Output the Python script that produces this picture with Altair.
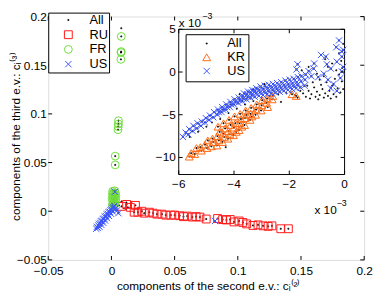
import altair as alt
import pandas as pd

FONT = "Liberation Sans"

# ---------------- main chart data ----------------
ru_pts = [(0.008, 0.005), (0.012, 0.007), (0.015, 0.004), (0.019, 0.006), (0.018, -0.001),
          (0.021, -0.001), (0.024, 0.000), (0.026, -0.002), (0.030, -0.001), (0.033, -0.002),
          (0.036, -0.003), (0.040, -0.003), (0.043, -0.004), (0.047, -0.004), (0.050, -0.004),
          (0.054, -0.0046), (0.057, -0.0056), (0.060, -0.005), (0.064, -0.006), (0.067, -0.0055),
          (0.070, -0.006), (0.075, -0.008), (0.084, -0.0075), (0.088, -0.0086), (0.091, -0.009),
          (0.094, -0.0085), (0.097, -0.011), (0.101, -0.010), (0.104, -0.0115), (0.107, -0.013),
          (0.112, -0.0146), (0.116, -0.014), (0.120, -0.015), (0.124, -0.0155), (0.127, -0.015),
          (0.134, -0.018), (0.140, -0.018)]

fr_pts = [(0.0010, 0.0205), (0.0025, 0.0210), (0.0018, 0.0190), (0.0032, 0.0185), (0.0008, 0.0175),
          (0.0022, 0.0165), (0.0035, 0.0160), (0.0012, 0.0150), (0.0027, 0.0140), (0.0006, 0.0130),
          (0.0020, 0.0120), (0.0034, 0.0115), (0.0010, 0.0105), (0.0025, 0.0095), (0.0015, 0.0080),
          (0.0030, 0.0075), (0.0008, 0.0065), (0.0022, 0.0055),
          (0.0030, 0.0476), (0.0030, 0.0566), (0.0052, 0.0837), (0.0054, 0.0870), (0.0055, 0.0896),
          (0.0056, 0.0930), (0.0075, 0.1560), (0.0076, 0.1630), (0.0077, 0.1640), (0.0078, 0.1796)]

us_pts = [(-0.0120, -0.0180), (-0.0115, -0.0160), (-0.0108, -0.0172), (-0.0103, -0.0147),
          (-0.0098, -0.0130), (-0.0094, -0.0160), (-0.0088, -0.0120), (-0.0083, -0.0103),
          (-0.0080, -0.0140), (-0.0073, -0.0098), (-0.0068, -0.0080), (-0.0065, -0.0118),
          (-0.0058, -0.0075), (-0.0053, -0.0055), (-0.0050, -0.0095), (-0.0043, -0.0050),
          (-0.0038, -0.0032), (-0.0035, -0.0072), (-0.0028, -0.0028), (-0.0023, -0.0010),
          (-0.0020, -0.0048), (-0.0013, -0.0005), (-0.0008, 0.0012), (-0.0005, -0.0025),
          (0.0002, 0.0018), (0.0007, 0.0035), (0.0010, -0.0002), (0.0017, 0.0040),
          (0.0022, 0.0055), (0.0025, 0.0020), (0.0032, 0.0030), (0.0045, 0.0010),
          (0.0055, -0.0020), (0.0028, 0.0200), (0.0820, -0.0100)]

all_extra_pts = [(0.0078, 0.1880), (0.0080, 0.0100), (0.0118, 0.0090), (0.0130, 0.0040),
                 (0.0157, 0.0090), (0.0100, 0.0030), (0.0210, 0.0030), (0.0060, 0.0060)]

x_ticks = [-0.05, 0, 0.05, 0.1, 0.15, 0.2]
y_ticks = [-0.05, 0, 0.05, 0.1, 0.15, 0.2]

# ---------------- inset data (units of 1e-3) ----------------
kr_in_pts = [(-5.62, -9.9), (-5.55, -9.5), (-5.42, -9.6), (-5.36, -8.9), (-5.22, -8.8), (-5.18, -9.2),
             (-5.05, -8.5), (-4.98, -8.9), (-4.95, -8.0), (-4.82, -8.7), (-4.78, -7.8), (-4.75, -8.2),
             (-4.62, -8.6), (-4.6, -7.5), (-4.58, -6.4), (-4.55, -8.0), (-4.52, -7.0), (-4.42, -8.2),
             (-4.4, -7.2), (-4.38, -6.0), (-4.35, -7.6), (-4.32, -6.6), (-4.22, -7.8), (-4.2, -6.9),
             (-4.18, -5.6), (-4.15, -7.3), (-4.12, -6.2), (-4.02, -7.4), (-4.0, -6.5), (-3.98, -5.2),
             (-3.95, -6.0), (-3.92, -7.0), (-3.82, -6.8), (-3.8, -6.0), (-3.78, -4.9), (-3.75, -5.5),
             (-3.72, -6.4), (-3.62, -6.2), (-3.6, -5.4), (-3.58, -4.5), (-3.55, -5.0), (-3.42, -5.6),
             (-3.4, -4.9), (-3.38, -4.2), (-3.35, -5.2), (-3.22, -5.0), (-3.2, -4.4), (-3.18, -3.8),
             (-3.02, -4.5), (-3.0, -3.9), (-2.98, -3.3), (-2.82, -3.6), (-2.8, -3.1), (-2.78, -4.1),
             (-2.62, -3.2), (-2.6, -2.8), (-1.9, -2.6), (-1.75, -2.8)]

us_in_pts = [(-5.85, -7.6), (-5.75, -7.1), (-5.65, -7.3), (-5.62, -6.7), (-5.5, -6.9), (-5.47, -6.3),
             (-5.35, -6.6), (-5.32, -6.0), (-5.2, -6.3), (-5.17, -5.8), (-5.05, -5.9), (-5.02, -5.4),
             (-4.9, -5.6), (-4.87, -5.1), (-4.75, -5.3), (-4.72, -4.7), (-4.6, -5.0), (-4.58, -4.4),
             (-4.55, -4.7), (-4.45, -4.7), (-4.43, -4.1), (-4.4, -4.4), (-4.3, -4.4), (-4.28, -3.8),
             (-4.25, -4.1), (-4.15, -4.1), (-4.13, -3.5), (-4.1, -3.8), (-4.0, -3.8), (-3.98, -3.2),
             (-3.95, -3.5), (-3.85, -3.6), (-3.83, -3.0), (-3.8, -3.3), (-3.7, -3.4), (-3.68, -2.8),
             (-3.66, -3.1), (-3.64, -2.5), (-3.55, -3.2), (-3.53, -2.6), (-3.51, -2.9), (-3.49, -2.3),
             (-3.4, -3.0), (-3.38, -2.4), (-3.36, -2.7), (-3.34, -2.1), (-3.25, -2.9), (-3.23, -2.2),
             (-3.21, -2.5), (-3.19, -1.9), (-3.1, -2.8), (-3.08, -2.1), (-3.06, -2.4), (-3.04, -1.7),
             (-2.95, -2.7), (-2.93, -2.0), (-2.91, -2.3), (-2.89, -1.6), (-2.8, -2.6), (-2.78, -1.9),
             (-2.76, -2.2), (-2.74, -1.5), (-2.65, -2.5), (-2.63, -1.8), (-2.61, -2.1), (-2.59, -1.4),
             (-2.5, -2.4), (-2.48, -1.7), (-2.46, -2.0), (-2.44, -1.3), (-2.35, -2.3), (-2.33, -1.6),
             (-2.31, -1.9), (-2.29, -1.2), (-2.2, -2.2), (-2.18, -1.5), (-2.16, -1.8), (-2.14, -1.0),
             (-2.05, -2.1), (-2.03, -1.4), (-2.01, -1.7), (-1.99, -0.9), (-1.9, -2.0), (-1.88, -1.3),
             (-1.86, -1.6), (-1.84, -0.8), (-1.75, -1.9), (-1.73, -1.2), (-1.71, -1.5), (-1.69, -0.6),
             (-1.6, -1.8), (-1.58, -1.1), (-1.56, -0.5), (-1.45, -1.6), (-1.43, -0.9), (-1.41, -0.3),
             (-1.7, 0.9), (-1.74, 0.3), (-1.1, 1.0), (-1.12, 0.4), (-0.85, 2.0), (-0.68, 1.8),
             (-0.64, 0.9), (-0.5, 0.4), (-0.28, 1.2), (-0.1, 1.8), (-0.2, 3.7), (-0.1, 0.06),
             (-0.75, -0.2), (-0.4, -1.4), (-0.15, -0.7), (-0.28, -2.2), (-0.5, -1.9), (-1.3, 0.1),
             (-0.95, -0.6), (-0.05, 2.6), (-0.3, 2.9), (-0.6, -0.9), (-1.2, -0.5), (-0.1, 2.4),
             (-0.05, 0.6)]

all_in_extra_pts = [(-1.5, -2.5), (-1.4, -2.9), (-1.3, -2.2), (-1.25, -3.1), (-1.2, -2.6), (-1.1, -1.8),
                    (-1.05, -2.9), (-1.0, -2.3), (-0.95, -3.2), (-0.9, -2.7), (-0.85, -1.5), (-0.8, -2.0),
                    (-0.75, -3.0), (-0.7, -2.5), (-0.65, -1.2), (-0.6, -2.8), (-0.55, -2.2), (-0.5, -3.1),
                    (-0.45, -1.6), (-0.4, -2.6), (-0.35, -0.8), (-0.3, -2.9), (-0.25, -1.9), (-0.2, -0.3),
                    (-0.15, -2.4), (-0.1, -1.1), (-0.08, 0.5), (-0.05, -2.0), (-0.12, 1.3), (-0.3, 0.2),
                    (-0.45, 1.0), (-0.6, 0.6), (-0.75, -0.5), (-0.9, -0.9), (-1.0, -0.2), (-1.15, -1.2),
                    (-1.35, -1.6), (-1.6, -2.2), (-1.7, -3.0), (-1.8, -2.7), (-1.95, -2.4), (-0.7, 1.5),
                    (-0.2, 2.2), (-0.05, 3.3), (-1.3, 0.6), (-1.55, 0.2),
                    (-5.6, -7.6), (-5.3, -7.0), (-5.0, -6.4), (-4.8, -5.9), (-4.5, -5.5), (-4.2, -4.8),
                    (-3.9, -4.3), (-3.6, -3.8), (-3.3, -3.4), (-3.0, -3.0), (-2.7, -2.8), (-2.4, -2.6),
                    (-2.1, -2.5), (-3.8, -2.6), (-3.3, -2.0), (-2.9, -1.4), (-2.3, -3.5), (-4.3, -8.8)]

in_x_ticks = [-6, -4, -2, 0]
in_x_labels = ["\u22126", "\u22124", "\u22122", "0"]
in_y_ticks = [-10, -5, 0, 5]
in_y_labels = ["\u221210", "\u22125", "0", "5"]

# ---------------- styling constants ----------------
XPATH = "M-0.8,-0.8L0.8,0.8M-0.8,0.8L0.8,-0.8"
DOT = "M-0.12,-0.12L0.12,-0.12L0.12,0.12L-0.12,0.12Z"
RED, GREEN, BLUE, ORANGE = "#ff1a1a", "#6fdd3a", "#3a55ff", "#ff6a14"
W, H = 322, 248
TL = 4  # inward tick length (px)


def rows(pts, grp):
    return [{"x": p[0], "y": p[1], "grp": grp} for p in pts]


main_df = pd.DataFrame(
    rows(ru_pts + fr_pts + us_pts + all_extra_pts, "All")
    + rows(ru_pts, "RU") + rows(fr_pts, "FR") + rows(us_pts, "US")
)
inset_df = pd.DataFrame(
    rows(kr_in_pts + us_in_pts + all_in_extra_pts, "All")
    + rows(kr_in_pts, "KR") + rows(us_in_pts, "US")
)
xt_df = pd.DataFrame({"x": x_ticks})
yt_df = pd.DataFrame({"y": y_ticks})
in_xlab_df = pd.DataFrame({"v": in_x_ticks, "t": in_x_labels})
in_ylab_df = pd.DataFrame({"v": in_y_ticks, "t": in_y_labels})

main_groups = ["All", "RU", "FR", "US"]
inset_groups = ["All", "KR", "US"]

NB = "\u00a0\u00a0"

main_legend = alt.Legend(
    orient="none", legendX=0, legendY=-4, title=None,
    fillColor="white", strokeColor="black", cornerRadius=0,
    padding=1, rowPadding=1.0, labelFontSize=13, labelFont=FONT, labelColor="black",
    symbolSize=64, symbolStrokeWidth=1, symbolOffset=13, labelOffset=15,
    labelExpr="datum.label + '" + NB + "'",
)
inset_legend = alt.Legend(
    orient="none", legendX=140, legendY=18, title=None,
    fillColor="white", strokeColor="black", cornerRadius=0,
    padding=3, rowPadding=0, labelFontSize=13, labelFont=FONT, labelColor="black",
    symbolSize=64, symbolStrokeWidth=1, symbolOffset=12, labelOffset=14.5,
    labelExpr="datum.label + '" + NB + "'",
)

axis_common = dict(grid=False, domain=False, ticks=False, labelFont=FONT, labelFontSize=12,
                   labelColor="black", labelFlush=False, labelOverlap=False)

MX_SCALE = alt.Scale(domain=[-0.05, 0.2], nice=False, zero=False)
MY_SCALE = alt.Scale(domain=[-0.05, 0.2], nice=False, zero=False)
MX_AXIS = alt.Axis(values=x_ticks, format="~g", labelPadding=6,
                   title="components of the second e.v.: c\u1d62\u207d\u00b2\u207e",
                   titleFont=FONT, titleFontSize=12, titleFontWeight="normal",
                   titleColor="black", titleX=163, titleY=26, titleBaseline="middle",
                   **axis_common)
MY_AXIS = alt.Axis(values=y_ticks, format="~g", labelPadding=2,
                   title="components of the third e.v.: c\u1d62\u207d\u00b3\u207e",
                   titleFont=FONT, titleFontSize=12, titleFontWeight="normal",
                   titleColor="black", titleX=-33, titleY=122, titleBaseline="middle",
                   titleAngle=270, **axis_common)

main_pts = alt.Chart(main_df).mark_point(filled=False, size=64, strokeWidth=1, opacity=1).encode(
    x=alt.X("x:Q", scale=MX_SCALE, axis=MX_AXIS),
    y=alt.Y("y:Q", scale=MY_SCALE, axis=MY_AXIS),
    color=alt.Color("grp:N", scale=alt.Scale(domain=main_groups, range=["black", RED, GREEN, BLUE]),
                    legend=main_legend),
    shape=alt.Shape("grp:N", scale=alt.Scale(domain=main_groups, range=[DOT, "square", "circle", XPATH]),
                    legend=main_legend),
)

tick_mark = dict(color="black", strokeWidth=1)
mt_bottom = alt.Chart(xt_df).mark_rule(**tick_mark).encode(
    x=alt.X("x:Q", scale=MX_SCALE, axis=MX_AXIS), y=alt.value(H), y2=alt.value(H - TL))
mt_top = alt.Chart(xt_df).mark_rule(**tick_mark).encode(
    x=alt.X("x:Q", scale=MX_SCALE, axis=MX_AXIS), y=alt.value(0), y2=alt.value(TL))
mt_left = alt.Chart(yt_df).mark_rule(**tick_mark).encode(
    y=alt.Y("y:Q", scale=MY_SCALE, axis=MY_AXIS), x=alt.value(0), x2=alt.value(TL))
mt_right = alt.Chart(yt_df).mark_rule(**tick_mark).encode(
    y=alt.Y("y:Q", scale=MY_SCALE, axis=MY_AXIS), x=alt.value(W), x2=alt.value(W - TL))

main = alt.layer(main_pts, mt_bottom, mt_top, mt_left, mt_right)

one = pd.DataFrame({"a": [0]})

IN_L, IN_R, IN_T, IN_B = 133, 302, 13, 161
IN_X = alt.Scale(domain=[-6, 0], range=[IN_L, IN_R], nice=False, zero=False)
IN_Y = alt.Scale(domain=[-12, 5], range=[IN_B, IN_T], nice=False, zero=False)

frame = alt.Chart(one).mark_rect(fill="white", stroke="black", strokeWidth=1).encode(
    x=alt.XDatum(-6, scale=IN_X, axis=None), x2=alt.X2Datum(0),
    y=alt.YDatum(-12, scale=IN_Y, axis=None), y2=alt.Y2Datum(5),
)

inset_pts = alt.Chart(inset_df).mark_point(filled=False, size=64, strokeWidth=1, opacity=1).encode(
    x=alt.X("x:Q", scale=IN_X, axis=None),
    y=alt.Y("y:Q", scale=IN_Y, axis=None),
    color=alt.Color("grp:N", scale=alt.Scale(domain=inset_groups, range=["black", ORANGE, BLUE]),
                    legend=inset_legend),
    shape=alt.Shape("grp:N", scale=alt.Scale(domain=inset_groups, range=[DOT, "triangle-up", XPATH]),
                    legend=inset_legend),
)

it_bottom = alt.Chart(in_xlab_df).mark_rule(**tick_mark).encode(
    x=alt.X("v:Q", axis=None), y=alt.value(IN_B), y2=alt.value(IN_B - TL))
it_top = alt.Chart(in_xlab_df).mark_rule(**tick_mark).encode(
    x=alt.X("v:Q", axis=None), y=alt.value(IN_T), y2=alt.value(IN_T + TL))
it_left = alt.Chart(in_ylab_df).mark_rule(**tick_mark).encode(
    y=alt.Y("v:Q", axis=None), x=alt.value(IN_L), x2=alt.value(IN_L + TL))
it_right = alt.Chart(in_ylab_df).mark_rule(**tick_mark).encode(
    y=alt.Y("v:Q", axis=None), x=alt.value(IN_R), x2=alt.value(IN_R - TL))

in_xlab = alt.Chart(in_xlab_df).mark_text(align="center", baseline="middle", font=FONT, fontSize=12,
                                          color="black", dy=10).encode(
    x=alt.X("v:Q", axis=None), y=alt.YDatum(-12, axis=None), text="t:N")
in_ylab = alt.Chart(in_ylab_df).mark_text(align="right", baseline="middle", font=FONT, fontSize=12,
                                          color="black", dx=-3).encode(
    x=alt.XDatum(-6, axis=None), y=alt.Y("v:Q", axis=None), text="t:N")

exp_top = alt.Chart(one).mark_text(align="left", baseline="alphabetic", font=FONT, fontSize=12,
                                   color="black", dx=0, dy=-2, text="x 10").encode(
    x=alt.XDatum(-6, axis=None), y=alt.YDatum(5, axis=None))
exp_top_sup = alt.Chart(one).mark_text(align="left", baseline="alphabetic", font=FONT, fontSize=9,
                                       color="black", dx=24, dy=-10, text="\u22123").encode(
    x=alt.XDatum(-6, axis=None), y=alt.YDatum(5, axis=None))
exp_bot = alt.Chart(one).mark_text(align="right", baseline="alphabetic", font=FONT, fontSize=12,
                                   color="black", dx=-8, dy=40, text="x 10").encode(
    x=alt.XDatum(0, axis=None), y=alt.YDatum(-12, axis=None))
exp_bot_sup = alt.Chart(one).mark_text(align="left", baseline="alphabetic", font=FONT, fontSize=9,
                                       color="black", dx=-8, dy=32, text="\u22123").encode(
    x=alt.XDatum(0, axis=None), y=alt.YDatum(-12, axis=None))

inset = alt.layer(frame, inset_pts, it_bottom, it_top, it_left, it_right,
                  in_xlab, in_ylab, exp_top, exp_top_sup, exp_bot, exp_bot_sup)

chart = alt.layer(main, inset).resolve_scale(
    x="independent", y="independent", color="independent", shape="independent"
).properties(
    width=W, height=H,
    padding={"left": 41, "top": 6, "right": 10, "bottom": 30},
    autosize=alt.AutoSizeParams(type="none"),
).configure_view(stroke="black", strokeWidth=1).configure(font=FONT)

chart.save("out.html", embed_options={"renderer": "svg", "actions": False})
